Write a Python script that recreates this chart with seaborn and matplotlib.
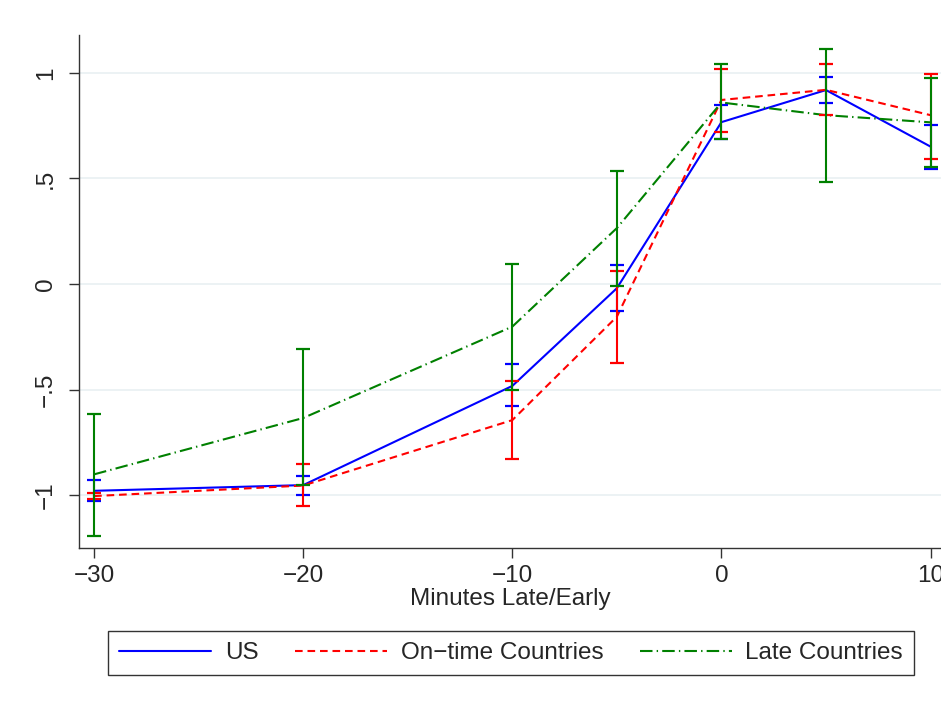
import numpy as np
import pandas as pd
import matplotlib
matplotlib.use('Agg')
import matplotlib.pyplot as plt
import seaborn as sns

# ── DATA ─────────────────────────────────────────────────────────────────────
minutes = [-30, -20, -10, -5, 0, 5, 10]

us_mean = [-0.98, -0.953, -0.483, -0.02, 0.767, 0.919, 0.651]
us_lo = [-1.03, -1.0, -0.58, -0.126, 0.687, 0.86, 0.547]
us_hi = [-0.929, -0.91, -0.38, 0.09, 0.85, 0.98, 0.754]

ontime_mean = [-1.005, -0.955, -0.645, -0.155, 0.872, 0.92, 0.80]
ontime_lo = [-1.02, -1.05, -0.83, -0.375, 0.722, 0.80, 0.592]
ontime_hi = [-0.99, -0.853, -0.458, 0.063, 1.019, 1.043, 0.995]

late_mean = [-0.902, -0.635, -0.202, 0.265, 0.86, 0.80, 0.766]
late_lo = [-1.193, -0.953, -0.50, -0.008, 0.689, 0.485, 0.556]
late_hi = [-0.618, -0.308, 0.093, 0.536, 1.041, 1.112, 0.975]

series_names = ['US', 'On\u2212time Countries', 'Late Countries']
y_ticks = [-1, -0.5, 0, 0.5, 1]
y_ticklabels = ['\u22121', '\u2212.5', '0', '.5', '1']
x_ticks = [-30, -20, -10, 0, 10]
x_ticklabels = ['\u221230', '\u221220', '\u221210', '0', '10']

# ── TABLE ────────────────────────────────────────────────────────────────────
frames = []
for name, m, lo, hi in zip(series_names,
                           [us_mean, ontime_mean, late_mean],
                           [us_lo, ontime_lo, late_lo],
                           [us_hi, ontime_hi, late_hi]):
    frames.append(pd.DataFrame({'Minutes': minutes, 'Value': m,
                                'lo': lo, 'hi': hi, 'Group': name}))
df = pd.concat(frames, ignore_index=True)

# ── STYLE ────────────────────────────────────────────────────────────────────
sns.set_style('white')
plt.rcParams['font.family'] = ['Liberation Sans', 'DejaVu Sans']
plt.rcParams['lines.scale_dashes'] = False
FS = 17.5

colors = {series_names[0]: '#0000ff', series_names[1]: '#ff0000', series_names[2]: '#008000'}
dashes = {series_names[0]: '', series_names[1]: (5.5, 3.5), series_names[2]: (9, 3, 1, 3)}

fig = plt.figure(figsize=(9.41, 7.08), dpi=100)
ax = fig.add_axes([0.084, 0.226, 0.916, 0.7246])

for y in y_ticks:
    ax.axhline(y, color='#eaf1f3', lw=1.3, zorder=0)

for name in series_names:
    sub = df[df['Group'] == name]
    sns.lineplot(data=sub, x='Minutes', y='Value', color=colors[name], lw=1.5,
                 dashes=False, ax=ax, label=name, zorder=2)
    if dashes[name]:
        ax.lines[-1].set_dashes(dashes[name])
    ax.errorbar(sub['Minutes'], sub['Value'],
                yerr=[sub['Value'] - sub['lo'], sub['hi'] - sub['Value']],
                fmt='none', ecolor=colors[name], elinewidth=1.5, capsize=5,
                capthick=1.6, zorder=3)

ax.set_xlim(-30.72, 10.5)
ax.set_ylim(-1.251, 1.18)
ax.set_yticks(y_ticks)
ax.set_yticklabels(y_ticklabels, rotation=90, va='center', fontsize=FS)
ax.set_xticks(x_ticks)
ax.set_xticklabels(x_ticklabels, fontsize=FS)
ax.tick_params(axis='both', direction='out', length=7, width=1, color='#333333',
               left=True, bottom=True)
ax.tick_params(axis='y', pad=9)
ax.tick_params(axis='x', pad=5)
ax.set_xlabel('Minutes Late/Early', fontsize=FS, labelpad=1)
ax.set_ylabel('')
sns.despine(ax=ax, top=True, right=True)
for s in ['left', 'bottom']:
    ax.spines[s].set_color('#333333')
    ax.spines[s].set_linewidth(1)

handles, labels = ax.get_legend_handles_labels()
ax.get_legend().remove()
leg = fig.legend(handles[:3], labels[:3], loc='lower left', ncol=3, mode='expand',
                 bbox_to_anchor=(108 / 941, 33 / 708, 806 / 941, 45 / 708),
                 fontsize=FS, frameon=True, fancybox=False, edgecolor='black',
                 handlelength=3.8, handletextpad=0.55, borderaxespad=0,
                 borderpad=0.45)
leg.get_frame().set_linewidth(1)

fig.savefig('out.png', dpi=100)
